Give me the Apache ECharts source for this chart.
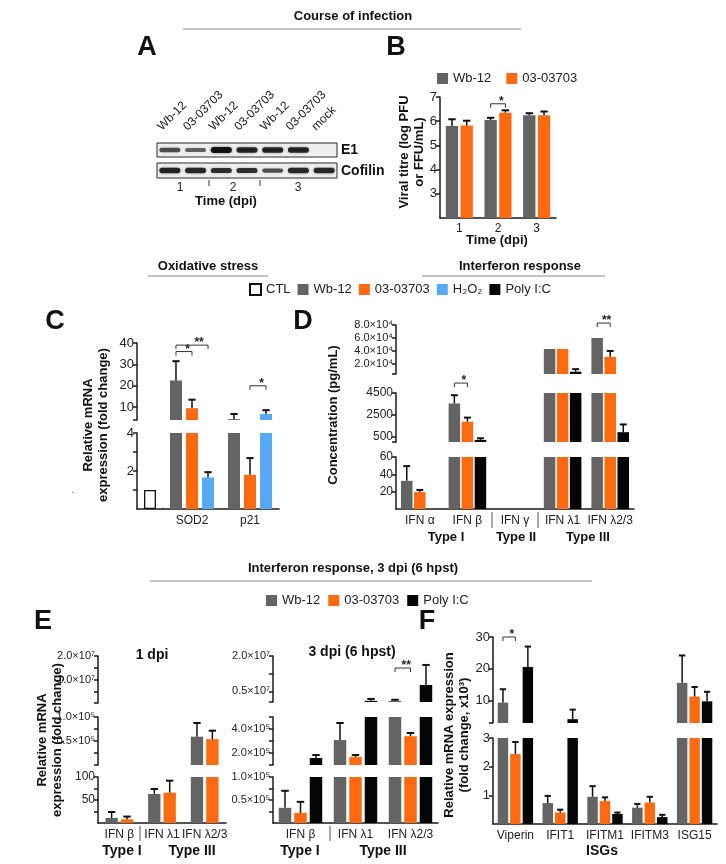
<!DOCTYPE html>
<html><head><meta charset="utf-8">
<script src="https://cdn.jsdelivr.net/npm/echarts@6/dist/echarts.min.js"></script>
<style>html,body{margin:0;padding:0;background:#fff}#c{width:726px;height:864px}</style>
</head><body><div id="c"></div>
<script>
// ---------------- DATA ----------------
// Panel A (western blot): lane names and relative band intensities
const blotLanes = ['Wb-12','03-03703','Wb-12','03-03703','Wb-12','03-03703','mock'];
const blotE1 = [0.55, 0.4, 1.0, 0.85, 0.85, 0.85, 0];
const blotCofilin = [0.85, 0.8, 0.75, 0.75, 0.5, 0.8, 0.8];
const blotDays = ['1','2','3'];

// Panel B: viral titre
const bDays = ['1','2','3'];
const bWb = [5.80, 6.05, 6.25];
const bWbErr = [0.28, 0.09, 0.08];
const b03 = [5.82, 6.35, 6.25];
const b03Err = [0.20, 0.10, 0.15];
const bTicks = [3,4,5,6,7];
const bSig = [[1, 0, 1, 6.72, '*']];

// Panel C: oxidative stress
const cGenes = ['SOD2','p21'];
const cCtl = [1];
const cWb = [22.5, 4.4];   const cWbErr = [9, 2.4];
const c03 = [9.5, 1.8];    const c03Err = [4, 0.88];
const cH2O2 = [1.66, 6.8]; const cH2O2Err = [0.28, 1.8];
const cUpperTicks = [4,10,20,30,40]; const cUpperLabels = [10,20,30,40];
const cLowerTicks = [1,2,3,4];       const cLowerLabels = [2,4];
const cSig = [[0,0,1,36,'*'],[0,0,2,39,'**'],[1,1,2,20,'*']];

// Panel D: IFN protein concentration
const dCats = ['IFN α','IFN β','IFN γ','IFN λ1','IFN λ2/3'];
const dWb   = [32.5, 3550, 0, 43000, 60000];  const dWbErr   = [17, 750, 0, 0, 0];
const d03   = [19.5, 1900, 0, 43000, 31000];  const d03Err   = [2.5, 370, 0, 0, 9000];
const dPoly = [0, 250, 0, 8000, 950];          const dPolyErr = [0, 150, 0, 4000, 700];
const dTopTicks = [4500,20000,40000,60000,80000]; const dTopLabels = [20000,40000,60000,80000];
const dMidTicks = [60,500,2500,4500];             const dMidLabels = [500,2500,4500];
const dLowTicks = [20,40,60];                     const dLowLabels = [20,40,60];
const dSig = [[1,0,1,5400,'*'],[4,0,1,83000,'**']];

// Panel E: IFN mRNA
const eCats = ['IFN β','IFN λ1','IFN λ2/3'];
const e1Wb = [11, 63, 59000];  const e1WbErr = [13, 11, 28500];
const e103 = [8, 66, 54000];   const e103Err = [6, 26, 17500];
const e1TopTicks = [1e5,5e6,1e7,1.5e7,2e7]; const e1TopLabels = [1e7,2e7];
const e1MidTicks = [100,2.5e4,5e4,7.5e4,1e5]; const e1MidLabels = [5e4,1e5];
const e1LowTicks = [25,50,75,100]; const e1LowLabels = [50,100];
const e3Wb   = [33000, 308000, 1000000];  const e3WbErr   = [37000, 142000, 450000];
const e303   = [22000, 167000, 340000];   const e303Err   = [24000, 16000, 27000];
const e3Poly = [158000, 1000000, 7700000]; const e3PolyErr = [25000, 800000, 8500000];
const e3TopTicks = [5e5,5e6,1.25e7,2e7]; const e3TopLabels = [5e6,2e7];
const e3MidTicks = [1e5,2e5,3e5,4e5,5e5]; const e3MidLabels = [2e5,4e5];
const e3LowTicks = [2.5e4,5e4,7.5e4,1e5]; const e3LowLabels = [5e4,1e5];
const e3Sig = [[2,0,1,1.49e7,'**']];

// Panel F: ISGs (fold change x10^3)
const fCats = ['Viperin','IFIT1','IFITM1','IFITM3','ISG15'];
const fWb   = [9.4, 0.73, 0.95, 0.57, 15.6];  const fWbErr   = [4.2, 0.25, 0.37, 0.13, 8.6];
const f03   = [2.44, 0.40, 0.80, 0.75, 11.3]; const f03Err   = [0.42, 0.10, 0.13, 0.20, 3.0];
const fPoly = [20.6, 4.2, 0.35, 0.24, 9.8];   const fPolyErr = [6.4, 3.0, 0.05, 0.08, 3.0];
const fUpTicks = [3,10,20,30]; const fUpLabels = [10,20,30];
const fLowTicks = [1,2,3];     const fLowLabels = [1,2,3];
const fSig = [[0,0,1,30,'*']];

// ---------------- STYLE ----------------
const FONT = '"Liberation Sans", Arial, Helvetica, sans-serif';
const COL = {wb:'#646464', m03:'#ff6a10', h2o2:'#5aa9f7', poly:'#050505', ctl:'#ffffff', axis:'#1a1a1a', text:'#222222'};
const SUP = {3:'³',4:'⁴',5:'⁵',7:'⁷'};
const sci = e => v => (v/Math.pow(10,e)).toFixed(1) + '×10' + SUP[e];

const grids=[], xAxes=[], yAxes=[], series=[];
function addPanel(c){
  const i = grids.length;
  grids.push({left:c.left, top:c.top, width:c.width, height:c.height, containLabel:false});
  xAxes.push({type:'category', gridIndex:i, data:c.cats, show:c.showX!==false,
    axisLine:{show:true, onZero:false, lineStyle:{color:COL.axis, width:1.5}},
    axisTick:{show:false},
    axisLabel:{show:c.xLabel!==false, fontSize:c.xFont||12, color:COL.text, margin:c.xMargin||6, interval:0}});
  const hasLab = c.labels && c.labels.length;
  yAxes.push({type:'value', gridIndex:i, min:c.min, max:c.max, show:c.showY!==false, offset:c.yOffset||0,
    axisLine:{show:true, lineStyle:{color:COL.axis, width:1.5}},
    axisTick:{show:true, length:4, customValues:c.ticks, lineStyle:{color:COL.axis, width:1.5}},
    axisLabel:{show:!!hasLab, customValues:hasLab?c.labels:undefined, formatter:c.fmt||(v=>String(v)), fontSize:c.yFont||12, color:COL.text, margin:3},
    splitLine:{show:false}});
  return i;
}
function addBars(gi, list, cg, gap){
  list.forEach(s => series.push({type:'bar', name:s.name, xAxisIndex:gi, yAxisIndex:gi, data:s.data,
    barCategoryGap:cg+'%', barGap:gap+'%', clip:true, silent:true,
    itemStyle:{color:s.color, borderColor:s.border||'transparent', borderWidth:s.border?1.3:0}}));
}
function slotOffset(bw, n, slot, cg, gap){
  const barW = bw*(1-cg/100)/(n+(n-1)*gap/100);
  return {off:-bw*(1-cg/100)/2 + slot*barW*(1+gap/100) + barW/2, barW};
}
function addErr(gi, n, slot, vals, errs, cg, gap){
  const yMin = yAxes[gi].min, yMax = yAxes[gi].max;
  series.push({type:'custom', xAxisIndex:gi, yAxisIndex:gi, clip:true, silent:true, z:4,
    encode:{x:0, y:[1,2]},
    data: vals.map((v,i)=>[i, v, v+(errs[i]||0)]),
    renderItem(params, api){
      const v=api.value(1), t=api.value(2);
      if(!(t>v)) return null;
      if (t <= yMin || v >= yMax) return null;
      const so = slotOffset(api.size([1,0])[0], n, slot, cg, gap);
      const a=api.coord([api.value(0), Math.max(v, yMin)]), b=api.coord([api.value(0), Math.min(t, yMax)]);
      const x=a[0]+so.off, cw=Math.max(5, so.barW*0.6);
      const kids = [{type:'line', shape:{x1:x,y1:a[1],x2:x,y2:b[1]}, style:{stroke:'#111', lineWidth:1.5}}];
      if (t <= yMax) kids.push({type:'line', shape:{x1:x-cw/2,y1:b[1],x2:x+cw/2,y2:b[1]}, style:{stroke:'#111', lineWidth:2}});
      return {type:'group', children:kids};
    }});
}
function addSig(gi, n, cg, gap, items){
  series.push({type:'custom', xAxisIndex:gi, yAxisIndex:gi, clip:false, silent:true, z:5,
    encode:{x:0, y:3},
    data: items.map(d=>[d[0], d[1], d[2], d[3]]),
    renderItem(params, api){
      const it = items[params.dataIndex];
      const bw = api.size([1,0])[0];
      const p = api.coord([it[0], it[3]]);
      const xa = p[0]+slotOffset(bw,n,it[1],cg,gap).off, xb = p[0]+slotOffset(bw,n,it[2],cg,gap).off;
      const y = p[1];
      return {type:'group', children:[
        {type:'polyline', shape:{points:[[xa,y+4],[xa,y],[xb,y],[xb,y+4]]}, style:{stroke:'#333', lineWidth:1, fill:null}},
        {type:'text', x:xa+(xb-xa)*0.72, y:y+4, style:{text:it[4], font:'bold 12px '+FONT, fill:'#222', align:'center', verticalAlign:'bottom', textAlign:'center', textVerticalAlign:'bottom'}}
      ]};
    }});
}
const WB = d=>({name:'Wb-12', data:d, color:COL.wb});
const M3 = d=>({name:'03-03703', data:d, color:COL.m03});
const HP = d=>({name:'H₂O₂', data:d, color:COL.h2o2});
const PL = d=>({name:'Poly I:C', data:d, color:COL.poly});

// ---------------- PANEL B ----------------
const gB = addPanel({left:440, top:97, width:116, height:121, cats:bDays, min:2, max:7, ticks:bTicks, labels:bTicks, yFont:13, xMargin:5});
addBars(gB, [WB(bWb), M3(b03)], 30, 20);
addErr(gB,2,0,bWb,bWbErr,30,20); addErr(gB,2,1,b03,b03Err,30,20);
addSig(gB,2,30,20,bSig);

// ---------------- PANEL C ----------------
const cCG=24, cGap=33;
const gCu = addPanel({left:163, top:343, width:116, height:77, cats:cGenes, min:4, max:40, ticks:cUpperTicks, labels:cUpperLabels, showX:false, yOffset:26, yFont:13});
const gCc = addPanel({left:137, top:433, width:26, height:76, cats:[''], min:0, max:4, ticks:cLowerTicks, labels:cLowerLabels, yFont:13});
const gCl = addPanel({left:163, top:433, width:116, height:76, cats:cGenes, min:0, max:4, showY:false, xFont:12});
addBars(gCc, [{name:'CTL', data:cCtl, color:COL.ctl, border:'#111'}], 54, 0);
[gCu, gCl].forEach(g=>{
  addBars(g, [WB(cWb), M3(c03), HP(cH2O2)], cCG, cGap);
  addErr(g,3,0,cWb,cWbErr,cCG,cGap); addErr(g,3,1,c03,c03Err,cCG,cGap); addErr(g,3,2,cH2O2,cH2O2Err,cCG,cGap);
});
addSig(gCu,3,cCG,cGap,cSig);

// ---------------- PANEL D ----------------
const dCG=21, dGap=13, dL=396, dW=238;
const gDt = addPanel({left:dL, top:325, width:dW, height:49, cats:dCats, min:4500, max:80000, ticks:dTopTicks, labels:dTopLabels, fmt:sci(4), showX:false, yFont:11});
const gDm = addPanel({left:dL, top:393, width:dW, height:49, cats:dCats, min:60, max:4500, ticks:dMidTicks, labels:dMidLabels, showX:false, yFont:12});
const gDl = addPanel({left:dL, top:457, width:dW, height:52, cats:dCats, min:0, max:60, ticks:dLowTicks, labels:dLowLabels, yFont:12});
[gDt, gDm, gDl].forEach(g=>{
  addBars(g, [WB(dWb), M3(d03), PL(dPoly)], dCG, dGap);
  addErr(g,3,0,dWb,dWbErr,dCG,dGap); addErr(g,3,1,d03,d03Err,dCG,dGap); addErr(g,3,2,dPoly,dPolyErr,dCG,dGap);
});
addSig(gDm,3,dCG,dGap,[dSig[0]]);
addSig(gDt,3,dCG,dGap,[dSig[1]]);

// ---------------- PANEL E ----------------
const e1CG=35, e1Gap=25;
const gE1t = addPanel({left:98, top:656, width:128, height:47, cats:eCats, min:1e5, max:2e7, ticks:e1TopTicks, labels:e1TopLabels, fmt:sci(7), showX:false, yFont:11});
const gE1m = addPanel({left:98, top:717, width:128, height:48, cats:eCats, min:100, max:1e5, ticks:e1MidTicks, labels:e1MidLabels, fmt:sci(5), showX:false, yFont:11});
const gE1l = addPanel({left:98, top:777, width:128, height:46, cats:eCats, min:0, max:100, ticks:e1LowTicks, labels:e1LowLabels, yFont:12});
[gE1t, gE1m, gE1l].forEach(g=>{
  addBars(g, [WB(e1Wb), M3(e103)], e1CG, e1Gap);
  addErr(g,2,0,e1Wb,e1WbErr,e1CG,e1Gap); addErr(g,2,1,e103,e103Err,e1CG,e1Gap);
});
const e3CG=21, e3Gap=24;
const gE3t = addPanel({left:273, top:656, width:165, height:46, cats:eCats, min:5e5, max:2e7, ticks:e3TopTicks, labels:e3TopLabels, fmt:sci(7), showX:false, yFont:11});
const gE3m = addPanel({left:273, top:717, width:165, height:48, cats:eCats, min:1e5, max:5e5, ticks:e3MidTicks, labels:e3MidLabels, fmt:sci(5), showX:false, yFont:11});
const gE3l = addPanel({left:273, top:777, width:165, height:46, cats:eCats, min:0, max:1e5, ticks:e3LowTicks, labels:e3LowLabels, fmt:sci(5), yFont:11});
[gE3t, gE3m, gE3l].forEach(g=>{
  addBars(g, [WB(e3Wb), M3(e303), PL(e3Poly)], e3CG, e3Gap);
  addErr(g,3,0,e3Wb,e3WbErr,e3CG,e3Gap); addErr(g,3,1,e303,e303Err,e3CG,e3Gap); addErr(g,3,2,e3Poly,e3PolyErr,e3CG,e3Gap);
});
addSig(gE3t,3,e3CG,e3Gap,e3Sig);

// ---------------- PANEL F ----------------
const fCG=21, fGap=19;
const gFu = addPanel({left:493, top:637, width:224, height:86, cats:fCats, min:3, max:30, ticks:fUpTicks, labels:fUpLabels, showX:false, yFont:13});
const gFl = addPanel({left:493, top:738, width:224, height:86, cats:fCats, min:0, max:3, ticks:fLowTicks, labels:fLowLabels, yFont:13});
[gFu, gFl].forEach(g=>{
  addBars(g, [WB(fWb), M3(f03), PL(fPoly)], fCG, fGap);
  addErr(g,3,0,fWb,fWbErr,fCG,fGap); addErr(g,3,1,f03,f03Err,fCG,fGap); addErr(g,3,2,fPoly,fPolyErr,fCG,fGap);
});
addSig(gFu,3,fCG,fGap,fSig);

// ---------------- TEXT / DECORATION ----------------
function T(text, x, y, o={}){
  const al=o.align||'center', va=o.valign||'middle';
  return {type:'text', x, y, rotation:o.rot||0, silent:true, z:10,
    style:{text, fill:o.color||'#111', font:(o.bold?'bold ':'')+(o.size||13)+'px '+FONT,
      align:al, verticalAlign:va, textAlign:al, textVerticalAlign:va, lineHeight:o.lh}};
}
function L(x1,y1,x2,y2,w,c){ return {type:'line', silent:true, z:10, shape:{x1,y1,x2,y2}, style:{stroke:c||'#888', lineWidth:w||1}}; }
const ROT = Math.PI/2;
const g = [];
g.push(T('Course of infection', 353, 16, {bold:true}));
g.push(L(183,29,521,29,1,'#8a8a8a'));
g.push(T('A', 147, 48, {bold:true, size:27}));
g.push(T('B', 396, 48, {bold:true, size:27}));
// blot
g.push({type:'rect', silent:true, shape:{x:157,y:143,width:180,height:14}, style:{fill:'#efefef', stroke:'#2a2a2a', lineWidth:1}});
g.push({type:'rect', silent:true, shape:{x:157,y:163,width:180,height:15}, style:{fill:'#efefef', stroke:'#2a2a2a', lineWidth:1}});
const laneW = 180/blotLanes.length;
function band(cx, cy, k){
  const h = 2.5+3.5*k;
  return {type:'rect', silent:true, shape:{x:cx-10.5, y:cy-h/2, width:21, height:h, r:h/2},
    style:{fill:'rgba(12,12,12,'+(0.35+0.6*k)+')', shadowBlur:3, shadowColor:'rgba(0,0,0,'+(0.5*k)+')'}};
}
blotLanes.forEach((name,i)=>{
  const cx = 157 + laneW*(i+0.5);
  g.push(T(name, cx-6, 133, {size:12, rot:Math.PI/4, align:'left', valign:'bottom', color:'#222'}));
  if (blotE1[i]>0) g.push(band(cx, 150, blotE1[i]));
  g.push(band(cx, 170.5, blotCofilin[i]));
});
g.push(T('E1', 341, 150, {bold:true, size:14, align:'left'}));
g.push(T('Cofilin', 341, 171, {bold:true, size:14, align:'left'}));
[180,233,298].forEach((x,i)=>g.push(T(blotDays[i], x, 188, {size:12, color:'#222'})));
g.push(L(209,180,209,186,1,'#333')); g.push(L(260,180,260,186,1,'#333'));
g.push(T('Time (dpi)', 226, 201, {bold:true}));
g.push(T('Viral titre (log PFU\nor FFU/mL)', 412, 152, {bold:true, size:13, rot:ROT, lh:15}));
g.push(T('Time (dpi)', 497, 240, {bold:true}));
// middle section
g.push(T('Oxidative stress', 208, 266, {bold:true}));
g.push(L(148,276,268,276,1,'#8a8a8a'));
g.push(T('Interferon response', 520, 266, {bold:true}));
g.push(L(422,276,605,276,1,'#8a8a8a'));
g.push(T('C', 55, 322, {bold:true, size:27}));
g.push(T('D', 303, 322, {bold:true, size:27}));
g.push(T('Relative mRNA\nexpression (fold change)', 96, 425, {bold:true, rot:ROT, lh:15}));
g.push(T('.', 73, 490, {size:10, color:'#555'}));
g.push(T('Concentration (pg/mL)', 333, 415, {bold:true, rot:ROT}));
g.push(L(492,512,492,528,1,'#555')); g.push(L(538,512,538,528,1,'#555'));
g.push(T('Type I', 446, 537, {bold:true}));
g.push(T('Type II', 516, 537, {bold:true}));
g.push(T('Type III', 588, 537, {bold:true}));
// bottom section
g.push(T('Interferon response, 3 dpi (6 hpst)', 353, 568, {bold:true}));
g.push(L(150,581,592,581,1,'#8a8a8a'));
g.push(T('E', 43, 622, {bold:true, size:27}));
g.push(T('F', 427, 622, {bold:true, size:27}));
g.push(T('1 dpi', 152, 655, {bold:true, size:14}));
g.push(T('3 dpi (6 hpst)', 352, 652, {bold:true, size:14}));
g.push(T('Relative mRNA\nexpression (fold change)', 50, 740, {bold:true, rot:ROT, lh:15}));
g.push(L(140,826,140,841,1,'#555')); g.push(L(330,826,330,841,1,'#555'));
g.push(T('Type I', 122, 851, {bold:true, size:14}));
g.push(T('Type III', 192, 851, {bold:true, size:14}));
g.push(T('Type I', 300, 851, {bold:true, size:14}));
g.push(T('Type III', 383, 851, {bold:true, size:14}));
g.push(T('Relative mRNA expression\n(fold change, x10³)', 457, 735, {bold:true, rot:ROT, lh:15}));
g.push(T('ISGs', 602, 851, {bold:true, size:14}));

const legBase = {icon:'rect', itemWidth:11, itemHeight:11, itemGap:12, selectedMode:false, padding:0,
  textStyle:{fontSize:13, color:'#222', fontFamily:FONT}};
const chart = echarts.init(document.getElementById('c'), null, {renderer:'canvas'});
chart.setOption({
  animation:false,
  backgroundColor:'#ffffff',
  textStyle:{fontFamily:FONT},
  grid:grids, xAxis:xAxes, yAxis:yAxes, series,
  legend:[
    Object.assign({}, legBase, {data:['Wb-12','03-03703'], left:437, top:72, itemGap:15}),
    Object.assign({}, legBase, {data:['CTL','Wb-12','03-03703','H₂O₂','Poly I:C'], left:249, top:283, itemGap:7}),
    Object.assign({}, legBase, {data:['Wb-12','03-03703','Poly I:C'], left:266, top:594, itemGap:8})
  ],
  graphic:{elements:g}
});
</script></body></html>
